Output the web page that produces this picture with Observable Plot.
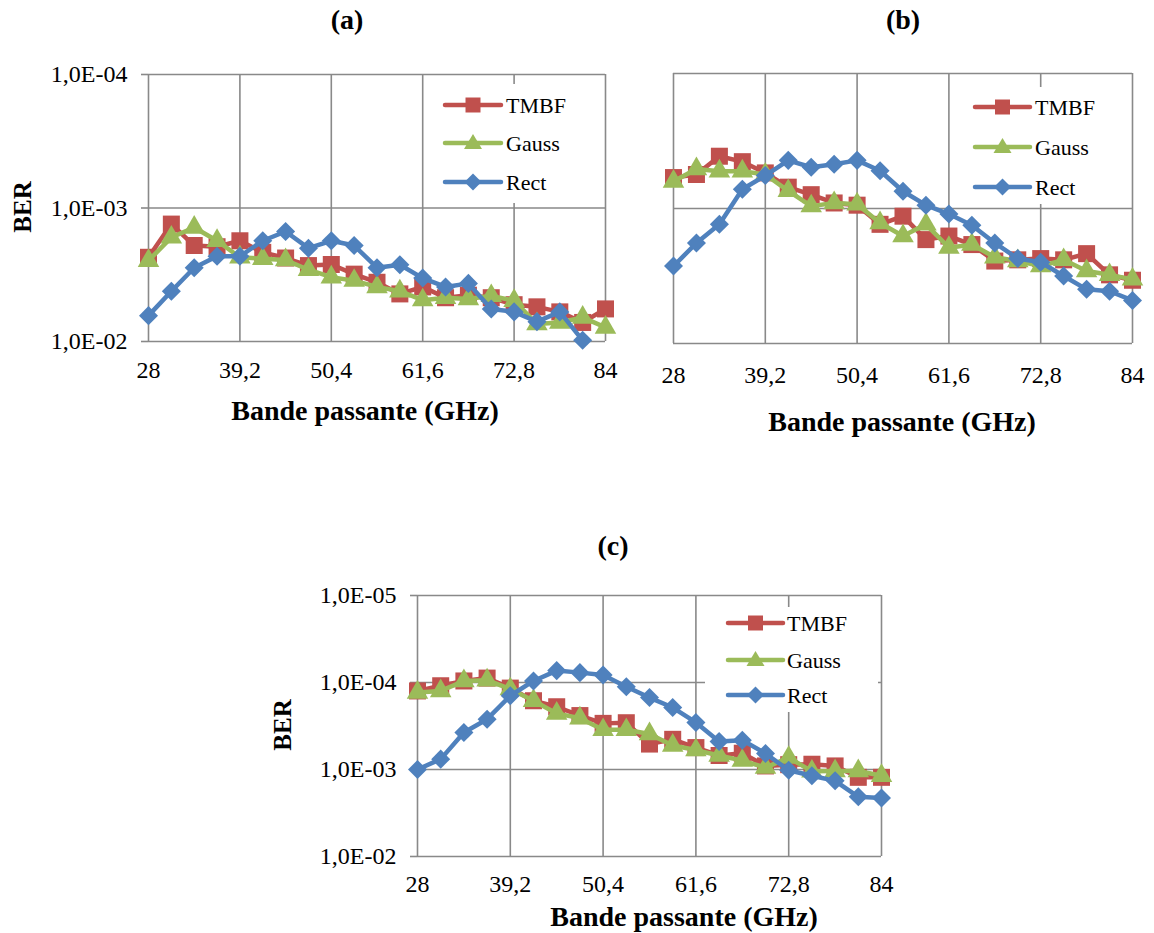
<!DOCTYPE html>
<html>
<head>
<meta charset="utf-8">
<script src="https://cdn.jsdelivr.net/npm/d3@7"></script>
<script src="https://cdn.jsdelivr.net/npm/@observablehq/plot@0.6"></script>
<style>
  body { margin: 0; background: #fff; }
  #root { position: relative; width: 1154px; height: 933px; overflow: hidden; font-family: "Liberation Serif", serif; color: #000; }
  .abs { position: absolute; }
  .ttl { font-weight: bold; font-size: 28px; transform: translate(-50%, -50%); white-space: nowrap; line-height: 1; }
  .xlab { font-weight: bold; font-size: 28px; transform: translate(-50%, -50%); white-space: nowrap; line-height: 1; }
  .ylab { font-weight: bold; font-size: 25px; transform: translate(-50%, -50%) rotate(-90deg); white-space: nowrap; line-height: 1; }
  .leg { background: #fff; }
</style>
</head>
<body>
<div id="root"></div>
<script>
// ---------- data ----------
const freq = [28, 30.8, 33.6, 36.4, 39.2, 42, 44.8, 47.6, 50.4, 53.2, 56, 58.8, 61.6, 64.4, 67.2, 70, 72.8, 75.6, 78.4, 81.2, 84];
const xTicks = [28, 39.2, 50.4, 61.6, 72.8, 84];
const xTickLabels = ["28", "39,2", "50,4", "61,6", "72,8", "84"];
const seriesNames = ["TMBF", "Gauss", "Rect"];
const seriesColors = ["#C0504D", "#9BBB59", "#4F81BD"];

// Panel (a)
const a_tmbf  = [2.34e-3, 1.32e-3, 1.91e-3, 1.95e-3, 1.76e-3, 2.15e-3, 2.37e-3, 2.7e-3, 2.65e-3, 3.13e-3, 3.6e-3, 4.4e-3, 3.9e-3, 4.7e-3, 4.5e-3, 4.7e-3, 5.3e-3, 5.5e-3, 6.0e-3, 7.2e-3, 5.7e-3];
const a_gauss = [2.48e-3, 1.66e-3, 1.4e-3, 1.76e-3, 2.34e-3, 2.4e-3, 2.45e-3, 2.9e-3, 3.3e-3, 3.5e-3, 3.9e-3, 4.2e-3, 4.9e-3, 4.7e-3, 4.8e-3, 4.55e-3, 4.95e-3, 7.4e-3, 7.2e-3, 6.6e-3, 7.85e-3];
const a_rect  = [6.4e-3, 4.2e-3, 2.8e-3, 2.3e-3, 2.3e-3, 1.76e-3, 1.5e-3, 2.0e-3, 1.76e-3, 1.91e-3, 2.8e-3, 2.66e-3, 3.35e-3, 3.9e-3, 3.67e-3, 5.7e-3, 6.0e-3, 7.1e-3, 6.0e-3, 9.8e-3, 1.4e-2];
const a_yTicks = [1e-4, 1e-3, 1e-2];

// Panel (b)
const b_tmbf  = [5.9e-4, 5.6e-4, 4.1e-4, 4.5e-4, 5.45e-4, 6.95e-4, 7.9e-4, 9.1e-4, 9.45e-4, 1.31e-3, 1.14e-3, 1.7e-3, 1.6e-3, 1.85e-3, 2.45e-3, 2.4e-3, 2.35e-3, 2.4e-3, 2.16e-3, 3.1e-3, 3.4e-3];
const b_gauss = [6.3e-4, 5.1e-4, 5.3e-4, 5.3e-4, 5.6e-4, 7.4e-4, 9.6e-4, 9.1e-4, 9.3e-4, 1.28e-3, 1.6e-3, 1.31e-3, 1.95e-3, 1.85e-3, 2.3e-3, 2.45e-3, 2.67e-3, 2.4e-3, 2.9e-3, 3.1e-3, 3.35e-3];
const b_rect  = [2.67e-3, 1.8e-3, 1.31e-3, 7.2e-4, 5.7e-4, 4.4e-4, 4.95e-4, 4.7e-4, 4.4e-4, 5.25e-4, 7.45e-4, 9.45e-4, 1.1e-3, 1.33e-3, 1.8e-3, 2.35e-3, 2.5e-3, 3.16e-3, 3.97e-3, 4.1e-3, 4.8e-3];
const b_yTicks = [1e-4, 1e-3, 1e-2];

// Panel (c)
const c_tmbf  = [1.25e-4, 1.09e-4, 9.6e-5, 8.9e-5, 1.16e-4, 1.62e-4, 1.9e-4, 2.4e-4, 2.95e-4, 2.9e-4, 5.1e-4, 4.5e-4, 5.6e-4, 6.9e-4, 6.5e-4, 9.1e-4, 8.8e-4, 8.7e-4, 9.1e-4, 1.23e-3, 1.23e-3];
const c_gauss = [1.3e-4, 1.25e-4, 9.6e-5, 9.4e-5, 1.19e-4, 1.62e-4, 2.27e-4, 2.57e-4, 3.5e-4, 3.5e-4, 3.9e-4, 5.3e-4, 5.98e-4, 6.9e-4, 7.9e-4, 9.5e-4, 7.3e-4, 1.05e-3, 1.04e-3, 1.04e-3, 1.18e-3];
const c_rect  = [1.0e-3, 7.6e-4, 3.76e-4, 2.64e-4, 1.42e-4, 9.6e-5, 7.3e-5, 7.7e-5, 8.2e-5, 1.12e-4, 1.49e-4, 1.94e-4, 2.88e-4, 4.77e-4, 4.6e-4, 6.55e-4, 1.02e-3, 1.18e-3, 1.35e-3, 2.06e-3, 2.13e-3];
const c_yTicks = [1e-5, 1e-4, 1e-3, 1e-2];

// ---------- layout ----------
const GRID = "#898989";
const TICK_FONT = 24;
const symbols = [
  {symbol: "square", r: 9.6, rotate: 0},
  {symbol: "triangle", r: 8.0, rotate: 0},
  {symbol: "square", r: 7.6, rotate: 45}
];

const panels = [
  {vals: [a_tmbf, a_gauss, a_rect], yTicks: a_yTicks, showY: true,
   svgLeft: 0, svgTop: 50, mL: 148, mT: 24, W: 457, H: 267, xPad: 19,
   title: ["(a)", 347, 20], xLabel: [365, 411], yLabel: [22, 207],
   legend: {left: 438, top: 84, w: 162, h: 119, rows: [21, 59, 98], x0: 7, x1: 63, tx: 68}},
  {vals: [b_tmbf, b_gauss, b_rect], yTicks: b_yTicks, showY: false,
   svgLeft: 560, svgTop: 50, mL: 113, mT: 23, W: 459, H: 270, xPad: 22,
   title: ["(b)", 903, 20], xLabel: [902, 422], yLabel: null,
   legend: {left: 962, top: 87, w: 166, h: 117, rows: [20, 60, 100], x0: 13, x1: 68, tx: 73}},
  {vals: [c_tmbf, c_gauss, c_rect], yTicks: c_yTicks, showY: true,
   svgLeft: 300, svgTop: 570, mL: 117, mT: 25, W: 464, H: 261, xPad: 18,
   title: ["(c)", 613, 546], xLabel: [684, 917], yLabel: [282, 725],
   legend: {left: 705, top: 607, w: 173, h: 105, rows: [16, 53, 88], x0: 23, x1: 78, tx: 82}}
];

const fmtY = d => "1,0E-" + String(Math.round(-Math.log10(d))).padStart(2, "0");
const fmtX = d => xTickLabels[xTicks.indexOf(d)];

const root = document.getElementById("root");

function addText(cls, text, x, y) {
  const el = document.createElement("div");
  el.className = "abs " + cls;
  el.textContent = text;
  el.style.left = x + "px";
  el.style.top = y + "px";
  root.appendChild(el);
}

for (const p of panels) {
  const domain = [p.yTicks[0], p.yTicks[p.yTicks.length - 1]];
  const marks = [
    Plot.gridX(xTicks, {stroke: GRID, strokeOpacity: 1, strokeWidth: 1.6}),
    Plot.gridY(p.yTicks, {stroke: GRID, strokeOpacity: 1, strokeWidth: 1.6}),
    Plot.axisX(xTicks, {label: null, tickSize: 0, tickPadding: p.xPad, tickFormat: fmtX,
      fontSize: TICK_FONT, fontFamily: "'Liberation Serif', serif", fill: "#000"})
  ];
  if (p.showY) {
    marks.push(Plot.axisY(p.yTicks, {label: null, tickSize: 7, tickPadding: 14, tickFormat: fmtY,
      fontSize: TICK_FONT, fontFamily: "'Liberation Serif', serif",
      stroke: GRID, strokeWidth: 1.6, fill: "#000"}));
  }
  p.vals.forEach((vals, s) => {
    const rows = freq.map((x, i) => ({x, y: vals[i]}));
    const inside = rows.filter(d => d.y >= domain[0] && d.y <= domain[1] * 1.0001);
    marks.push(Plot.line(rows, {x: "x", y: "y", stroke: seriesColors[s], strokeWidth: 4.5, clip: true,
      strokeLinejoin: "round", strokeLinecap: "round"}));
    marks.push(Plot.dot(inside, {x: "x", y: "y", symbol: symbols[s].symbol, r: symbols[s].r,
      rotate: symbols[s].rotate, fill: seriesColors[s], stroke: "none"}));
  });
  const chart = Plot.plot({
    width: p.mL + p.W + 15,
    height: p.mT + p.H + 45,
    marginLeft: p.mL, marginRight: 15, marginTop: p.mT, marginBottom: 45,
    style: {fontFamily: "'Liberation Serif', serif", fontSize: TICK_FONT + "px", background: "transparent", overflow: "visible"},
    x: {domain: [28, 84], axis: null, label: null},
    y: {type: "log", domain, reverse: true, axis: null, label: null},
    marks
  });
  chart.style.position = "absolute";
  chart.style.left = p.svgLeft + "px";
  chart.style.top = p.svgTop + "px";
  root.appendChild(chart);

  // legend (inside plot area, white box)
  const L = p.legend;
  const ns = "http://www.w3.org/2000/svg";
  const box = document.createElement("div");
  box.className = "abs leg";
  box.style.left = L.left + "px"; box.style.top = L.top + "px";
  box.style.width = L.w + "px"; box.style.height = L.h + "px";
  const svg = document.createElementNS(ns, "svg");
  svg.setAttribute("width", L.w); svg.setAttribute("height", L.h);
  const cx = (L.x0 + L.x1) / 2;
  seriesNames.forEach((name, s) => {
    const y = L.rows[s];
    const line = document.createElementNS(ns, "line");
    line.setAttribute("x1", L.x0); line.setAttribute("x2", L.x1);
    line.setAttribute("y1", y); line.setAttribute("y2", y);
    line.setAttribute("stroke", seriesColors[s]); line.setAttribute("stroke-width", 4.5);
    line.setAttribute("stroke-linecap", "round");
    svg.appendChild(line);
    const m = document.createElementNS(ns, "path");
    let d;
    if (s === 0) d = `M${cx-7.5},${y-7.5}h15v15h-15Z`;
    else if (s === 1) d = `M${cx},${y-9}L${cx+9},${y+6}L${cx-9},${y+6}Z`;
    else d = `M${cx},${y-8.5}L${cx+8.5},${y}L${cx},${y+8.5}L${cx-8.5},${y}Z`;
    m.setAttribute("d", d); m.setAttribute("fill", seriesColors[s]);
    svg.appendChild(m);
    const t = document.createElementNS(ns, "text");
    t.setAttribute("x", L.tx); t.setAttribute("y", y);
    t.setAttribute("dy", "0.35em");
    t.setAttribute("font-family", "'Liberation Serif', serif");
    t.setAttribute("font-size", 22);
    t.textContent = name;
    svg.appendChild(t);
  });
  box.appendChild(svg);
  root.appendChild(box);

  addText("ttl", p.title[0], p.title[1], p.title[2]);
  addText("xlab", "Bande passante (GHz)", p.xLabel[0], p.xLabel[1]);
  if (p.yLabel) addText("ylab", "BER", p.yLabel[0], p.yLabel[1]);
}
</script>
</body>
</html>
